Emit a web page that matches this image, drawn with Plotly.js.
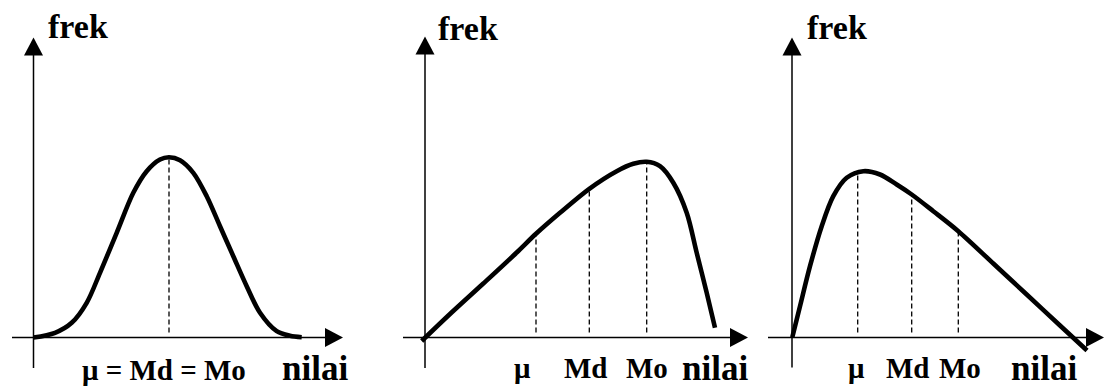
<!DOCTYPE html>
<html>
<head>
<meta charset="utf-8">
<script src="https://cdn.plot.ly/plotly-3.0.1.min.js"></script>
<style>html,body{margin:0;padding:0;background:#fff;} #chart{width:1105px;height:388px;}</style>
</head>
<body>
<div id="chart"></div>
<script>
// ---- Data (nilai along x, frek along y; origin at axis crossing) ----
// Panel 1: symmetric curve
const symX = [0, 21.5, 38.2, 53.2, 66.5, 83.2, 99.8, 113.2, 126.5, 135.5, 146.5, 159.8, 173.2, 186.5, 199.8, 213.2, 226.5, 243.2, 256.5, 268.2];
const symY = [0, 4.7, 14.7, 34.7, 64.7, 104.7, 144.7, 166.3, 178, 180.3, 177.3, 164.7, 141.3, 111.3, 81.3, 51.3, 24.7, 6.3, 1.7, 0.3];
const symMarkX = [135.5];
const symMarkTop = [180];
const symLabels = ["\u03bc = Md = Mo"];

// Panel 2: negatively skewed curve
const negX = [-3.3, 25, 58.3, 91.7, 111, 135, 164.3, 191.7, 208.3, 221.7, 235, 248.3, 261.7, 271.7, 281.7, 290];
const negY = [-3.5, 23.5, 54, 85, 103.7, 124.7, 148.7, 166.3, 173.7, 175.7, 171.3, 154.7, 124.7, 84.7, 44.7, 9.7];
const negMarkX = [111, 164.3, 221.7];
const negMarkTop = [103.7, 148, 175.7];
const negLabels = ["\u03bc", "Md", "Mo"];

// Panel 3: positively skewed curve
const posX = [0.3, 8, 18, 29.7, 41.3, 54.7, 71.3, 88, 104.7, 119.7, 141.3, 166.3, 201.3, 234.7, 268, 295];
const posY = [0.3, 31.3, 71.3, 111.3, 141.3, 159.7, 166.3, 163, 153, 143, 126.3, 106.3, 74, 43, 12, -13];
const posMarkX = [65.7, 119.7, 166.3];
const posMarkTop = [165, 142, 106];
const posLabels = ["\u03bc", "Md", "Mo"];

const axisTitleY = "frek";
const axisTitleX = "nilai";

// ---- Layout helpers (positions/styles) ----
const W = 1105, H = 388;
const FONT = "Liberation Serif";
const panels = [
  {xa: "x",  ya: "y",  dom: [0, 370 / W],      range: [-33.5, 336.5], ax: {xmin: -21.5, xtip: 309.5, ymin: -30.5, ytip: 300},
   cx: symX, cy: symY, mx: symMarkX, mt: symMarkTop, labels: symLabels, labelX: [130], labelY: [-32.5],
   frek: {x: 44.5, y: 311}, nilai: {x: 281.5, y: -31}},
  {xa: "x2", ya: "y2", dom: [370 / W, 760 / W], range: [-55, 335],     ax: {xmin: -22, xtip: 323, ymin: -30.5, ytip: 301},
   cx: negX, cy: negY, mx: negMarkX, mt: negMarkTop, labels: negLabels, labelX: [97.5, 161, 222], labelY: [-30.5, -30, -30],
   frek: {x: 43, y: 309}, nilai: {x: 290, y: -31}},
  {xa: "x3", ya: "y3", dom: [760 / W, 1],       range: [-32, 313],     ax: {xmin: -24, xtip: 312, ymin: -30, ytip: 300},
   cx: posX, cy: posY, mx: posMarkX, mt: posMarkTop, labels: posLabels, labelX: [64.7, 116, 168], labelY: [-30.5, -30, -30],
   frek: {x: 44.7, y: 310}, nilai: {x: 252, y: -31}}
];

const traces = [];
const shapes = [];
const annotations = [];
const layout = {
  width: W, height: H,
  margin: {l: 0, r: 0, t: 0, b: 0, pad: 0},
  paper_bgcolor: "#ffffff", plot_bgcolor: "#ffffff",
  showlegend: false,
  shapes: shapes, annotations: annotations
};

const ARROW_LEN = 18, ARROW_HALF = 9.5;
panels.forEach((p, i) => {
  const n = i === 0 ? "" : String(i + 1);
  const hidden = {showgrid: false, zeroline: false, showticklabels: false, showline: false, ticks: "", fixedrange: true};
  layout["xaxis" + n] = Object.assign({domain: p.dom, range: p.range, anchor: p.ya}, hidden);
  layout["yaxis" + n] = Object.assign({domain: [0, 1], range: [-50.5, 337.5], anchor: p.xa}, hidden);

  // curve
  traces.push({x: p.cx, y: p.cy, xaxis: p.xa, yaxis: p.ya, type: "scatter", mode: "lines",
    line: {color: "#000", width: 4.6, shape: "spline", smoothing: 0.9}, cliponaxis: false, hoverinfo: "skip"});
  // dashed markers
  p.mx.forEach((mx, k) => {
    traces.push({x: [mx, mx], y: [5, p.mt[k]], xaxis: p.xa, yaxis: p.ya, type: "scatter", mode: "lines",
      line: {color: "#000", width: 1.3, dash: "5px,3px"}, cliponaxis: false, hoverinfo: "skip"});
  });
  // axes lines
  const a = p.ax;
  shapes.push({type: "line", xref: p.xa, yref: p.ya, x0: a.xmin, x1: a.xtip - ARROW_LEN + 1, y0: 0, y1: 0, line: {color: "#000", width: 1.5}});
  shapes.push({type: "line", xref: p.xa, yref: p.ya, x0: 0, x1: 0, y0: a.ymin, y1: a.ytip - ARROW_LEN + 1, line: {color: "#000", width: 1.5}});
  // arrow heads
  shapes.push({type: "path", xref: p.xa, yref: p.ya,
    path: `M ${a.xtip - ARROW_LEN} ${-ARROW_HALF} L ${a.xtip} 0 L ${a.xtip - ARROW_LEN} ${ARROW_HALF} Z`,
    fillcolor: "#000", line: {color: "#000", width: 0}});
  shapes.push({type: "path", xref: p.xa, yref: p.ya,
    path: `M ${-ARROW_HALF} ${a.ytip - ARROW_LEN} L 0 ${a.ytip} L ${ARROW_HALF} ${a.ytip - ARROW_LEN} Z`,
    fillcolor: "#000", line: {color: "#000", width: 0}});
  // texts
  annotations.push({xref: p.xa, yref: p.ya, x: p.frek.x, y: p.frek.y, text: "<b>" + axisTitleY + "</b>", showarrow: false,
    xanchor: "center", yanchor: "middle", font: {family: FONT, size: 34, color: "#000"}});
  annotations.push({xref: p.xa, yref: p.ya, x: p.nilai.x, y: p.nilai.y, text: "<b>" + axisTitleX + "</b>", showarrow: false,
    xanchor: "center", yanchor: "middle", font: {family: FONT, size: 35, color: "#000"}});
  p.labels.forEach((t, k) => {
    annotations.push({xref: p.xa, yref: p.ya, x: p.labelX[k], y: p.labelY[k], text: "<b>" + t + "</b>", showarrow: false,
      xanchor: "center", yanchor: "middle", font: {family: FONT, size: 29, color: "#000"}});
  });
});

Plotly.newPlot("chart", traces, layout, {displayModeBar: false, staticPlot: true});
</script>
</body>
</html>
